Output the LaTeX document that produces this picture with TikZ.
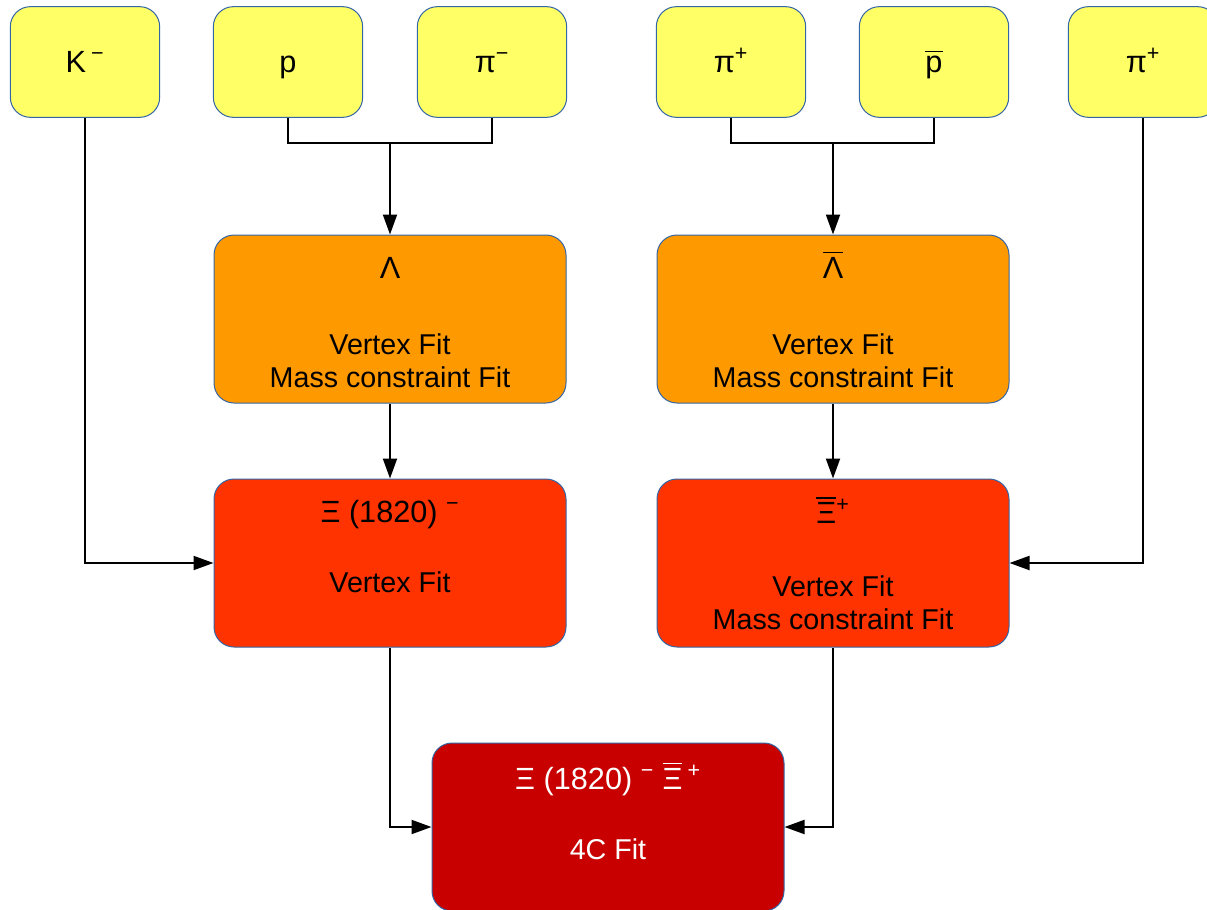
\documentclass[tikz,border=0pt]{standalone}
\usepackage{amsmath}
\usepackage{fontspec}
\setmainfont{Liberation Sans}
\usetikzlibrary{arrows.meta}

\definecolor{edgeblue}{HTML}{3465A4}
\definecolor{trackyellow}{HTML}{FFFF66}
\definecolor{lamorange}{HTML}{FF9900}
\definecolor{xired}{HTML}{FF3300}
\definecolor{fitred}{HTML}{C80000}

\begin{document}
\begin{tikzpicture}[x=0.75pt, y=-0.75pt,
  box/.style={draw=edgeblue, line width=0.75pt, rounded corners=15pt, align=center, inner sep=0pt},
  track/.style={box, fill=trackyellow, minimum width=112pt, minimum height=83pt,
                text height=16pt, text depth=0pt, font=\fontsize{23}{27}\selectfont},
  fitbox/.style={box, minimum width=264pt, minimum height=126pt,
                font=\fontsize{21.5}{24.75}\selectfont},
  line/.style={line width=1.5pt},
  arr/.style={line, -{Triangle[length=15pt, width=10.5pt]}}]
\useasboundingbox (0,0) rectangle (1207,910);

% final state particles
\node[track] (km)   at (85,62)   {K\,\textsuperscript{−}};
\node[track] (p)    at (288,62)  {p};
\node[track] (pim)  at (492,62)  {π\textsuperscript{−}};
\node[track] (pipa) at (731,62)  {π\textsuperscript{+}};
\node[track] (pbar) at (934,62)  {$\overline{\hbox{p}}$};
\node[track] (pipb) at (1143,62) {π\textsuperscript{+}};

% intermediate fits
\node[fitbox, fill=lamorange] (lam) at (390,319)
  {{\fontsize{23}{27}\selectfont Λ$\vphantom{\overline{\hbox{Λ}}}$}\\[32pt]Vertex Fit\\Mass constraint Fit};
\node[fitbox, fill=lamorange] (lambar) at (833,319)
  {{\fontsize{23}{27}\selectfont $\overline{\hbox{Λ}}$}\\[32pt]Vertex Fit\\Mass constraint Fit};
\node[fitbox, fill=xired] (xim) at (390,563)
  {{\fontsize{23}{27}\selectfont Ξ (1820) \textsuperscript{−}}\\[28pt]Vertex Fit\\\mbox{}};
\node[fitbox, fill=xired] (xibar) at (833,563)
  {{\fontsize{23}{27}\selectfont $\overline{\hbox{Ξ}}$\textsuperscript{+}}\\[30pt]Vertex Fit\\Mass constraint Fit};

% combined fit
\node[fitbox, fill=fitred, text=white] (fit) at (608,827)
  {{\fontsize{23}{27}\selectfont Ξ (1820) \textsuperscript{−} $\overline{\hbox{Ξ}}$\,\textsuperscript{+}}\\[28pt]4C Fit\\\mbox{}};

\coordinate (lamjoin)    at (390,143);
\coordinate (lambarjoin) at (833,143);

\draw[line] (p.south) |- (lamjoin) -| (pim.south);
\draw[arr] (lamjoin) -- (lam.north);
\draw[line] (pipa.south) |- (lambarjoin) -| (pbar.south);
\draw[arr] (lambarjoin) -- (lambar.north);
\draw[arr] (lam) -- (xim);
\draw[arr] (lambar) -- (xibar);
\draw[arr] (km.south) |- (xim.west);
\draw[arr] (pipb.south) |- (xibar.east);
\draw[arr] (xim.south) |- (fit.west);
\draw[arr] (xibar.south) |- (fit.east);
\end{tikzpicture}
\end{document}
